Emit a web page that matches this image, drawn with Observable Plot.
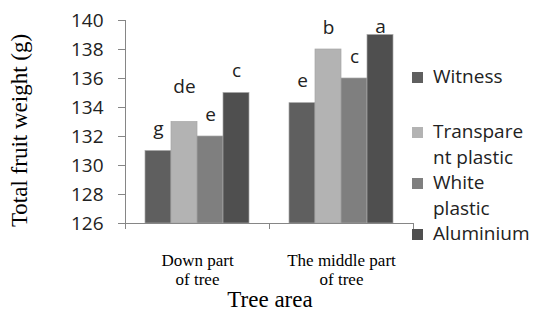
<!DOCTYPE html>
<html>
<head>
<meta charset="utf-8">
<script src="https://cdn.jsdelivr.net/npm/d3@7"></script>
<script src="https://cdn.jsdelivr.net/npm/@observablehq/plot@0.6"></script>
<style>
  body { margin: 0; background: #fff; }
  #chart { position: relative; width: 535px; height: 311px; overflow: hidden; background: #fff; }
  #chart svg { position: absolute; left: 0; top: 0; }
  .ytitle { position: absolute; left: -101px; top: 119px; width: 240px; height: 23px; line-height: 23px;
            text-align: center; font-family: "Liberation Serif", serif; font-size: 23px; color: #000;
            transform: rotate(-90deg); transform-origin: 50% 50%; white-space: nowrap; }
  .xtitle { position: absolute; left: 170px; top: 290px; width: 200px; height: 20px; line-height: 20px; text-align: center;
            font-family: "Liberation Serif", serif; font-size: 23px; color: #000; white-space: nowrap; }
  #legend { position: absolute; left: 412px; top: 64px; font-family: "Open Sans", sans-serif; font-size: 19px;
            line-height: 25.5px; color: #222; }
  .item { display: flex; align-items: flex-start; }
  .sw { width: 11px; height: 11px; margin-top: 7.5px; margin-right: 10px; flex: none; }
  .lab { white-space: pre; }
</style>
</head>
<body>
<div id="chart"></div>
<script>
// ---- data ----
const areas = ["Down part of tree", "The middle part of tree"];
const areaTickLabels = ["Down part\nof tree", "The middle part\nof tree"];
const series = ["Witness", "Transparent plastic", "White plastic", "Aluminium"];
const legendLabels = ["Witness", "Transpare\nnt plastic", "White\nplastic", "Aluminium"];
const downValues = [131, 133, 132, 135];
const middleValues = [134.3, 138, 136, 139];
const downLetters = ["g", "de", "e", "c"];
const middleLetters = ["e", "b", "c", "a"];
const yTicks = [126, 128, 130, 132, 134, 136, 138, 140];
const yTitle = "Total fruit weight (g)";
const xTitle = "Tree area";
const colors = ["#5f5f5f", "#b3b3b3", "#7f7f7f", "#4f4f4f"];

const valuesByArea = [downValues, middleValues];
const lettersByArea = [downLetters, middleLetters];
const data = areas.flatMap((a, i) => series.map((s, j) => ({
  area: a, series: s, value: valuesByArea[i][j], letter: lettersByArea[i][j]
})));

const axisColor = "#868686";
const letterFont = {fontFamily: "Open Sans, sans-serif", fontSize: 19, fill: "#222", textAnchor: "middle"};

const plot = Plot.plot({
  width: 535,
  height: 311,
  marginLeft: 125,
  marginRight: 122,
  marginTop: 20,
  marginBottom: 88,
  style: {background: "transparent", color: "#222"},
  y: {domain: [126, 140]},
  fx: {domain: areas, padding: 0},
  x: {domain: series, paddingInner: 0, paddingOuter: 0.74, axis: null},
  color: {domain: series, range: colors},
  marks: [
    Plot.barY(data, {fx: "area", x: "series", y1: 126, y2: "value", fill: "series",
                     stroke: "#a6a6a6", strokeWidth: 0.7, inset: 0}),
    Plot.ruleY([126], {stroke: axisColor}),
    Plot.text(data.filter(d => d.letter !== "de" && !(d.letter === "a")), {fx: "area", x: "series", y: "value", text: "letter", dy: -22, ...letterFont}),
    Plot.text(data.filter(d => d.letter === "de"), {fx: "area", x: "series", y: "value", text: "letter", dy: -35, ...letterFont}),
    Plot.text(data.filter(d => d.letter === "a"), {fx: "area", x: "series", y: "value", text: "letter", dy: -8, ...letterFont}),
    Plot.axisY({ticks: yTicks, tickSize: 7, tickPadding: 15, stroke: axisColor, label: null,
                fontSize: 19, fontFamily: "Open Sans, sans-serif", fill: "#222", tickFormat: d => String(d)}),
    Plot.axisFx({anchor: "bottom", tickSize: 0, tickPadding: 29, label: null,
                 fontSize: 17, fontFamily: "Liberation Serif, serif", fill: "#000", lineHeight: 1.12,
                 tickFormat: d => areaTickLabels[areas.indexOf(d)]})
  ]
});

const chart = document.getElementById("chart");
chart.append(plot);

// axis line and category boundary ticks, positioned through Plot's own scales
const fx = plot.scale("fx"), y = plot.scale("y");
const svg = d3.select(plot);
const x0 = fx.apply(areas[0]);
const bounds = areas.map(a => fx.apply(a)).concat([fx.apply(areas[areas.length - 1]) + fx.bandwidth]);
const g = svg.append("g").attr("stroke", axisColor).attr("stroke-width", 1);
g.append("line").attr("x1", x0 + 0.5).attr("x2", x0 + 0.5).attr("y1", y.apply(140)).attr("y2", y.apply(126));
bounds.forEach(b => g.append("line").attr("x1", b + 0.5).attr("x2", b + 0.5)
  .attr("y1", y.apply(126)).attr("y2", y.apply(126) + 6));

// titles
const yt = document.createElement("div"); yt.className = "ytitle"; yt.textContent = yTitle; chart.append(yt);
const xt = document.createElement("div"); xt.className = "xtitle"; xt.textContent = xTitle; chart.append(xt);

// legend
const legend = document.createElement("div"); legend.id = "legend";
series.forEach((s, i) => {
  const item = document.createElement("div"); item.className = "item";
  if (i === 0) item.style.marginBottom = "29.5px";
  const sw = document.createElement("span"); sw.className = "sw"; sw.style.background = colors[i];
  const lab = document.createElement("span"); lab.className = "lab"; lab.textContent = legendLabels[i];
  item.append(sw, lab); legend.append(item);
});
chart.append(legend);
</script>
</body>
</html>
